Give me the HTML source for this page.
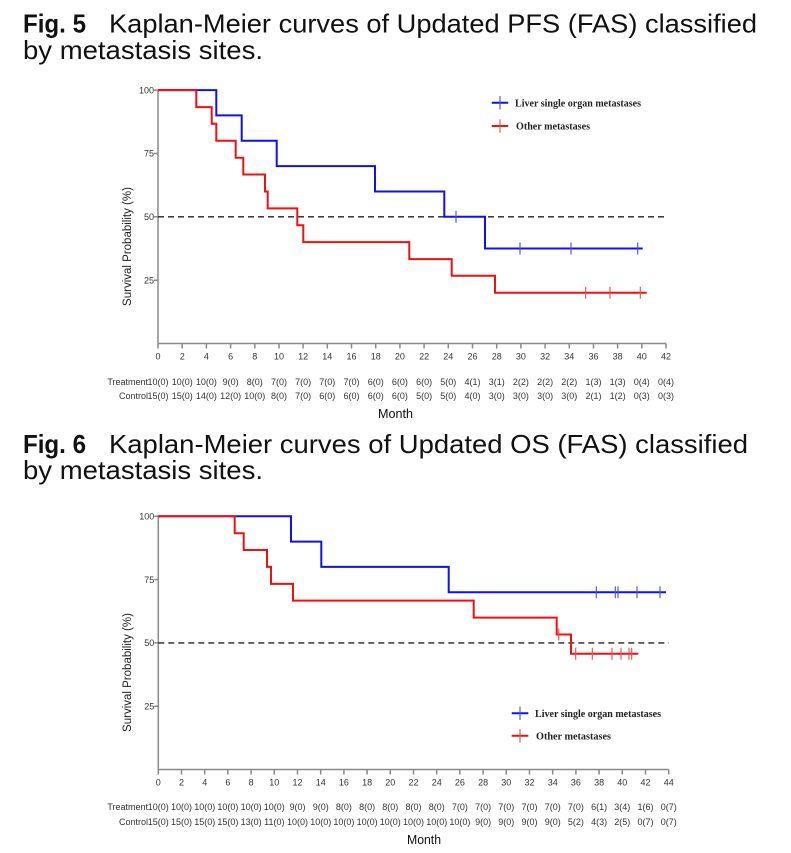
<!DOCTYPE html>
<html><head><meta charset="utf-8"><style>
html,body{margin:0;padding:0;background:#fff;}
svg{display:block;}
.t{font-family:"Liberation Sans",Arial,sans-serif;}
.tk{font-family:"Liberation Sans",Arial,sans-serif;font-size:9px;fill:#333;}
.lg{font-family:"Liberation Serif","Times New Roman",serif;font-size:10.5px;font-weight:bold;fill:#222;}
</style></head><body>
<svg width="791" height="853" viewBox="0 0 791 853" xmlns="http://www.w3.org/2000/svg">
<!-- Titles -->
<text class="t" x="23" y="32.5" font-size="26" font-weight="bold" fill="#111" textLength="63" lengthAdjust="spacingAndGlyphs">Fig. 5</text>
<text class="t" x="109" y="32.5" font-size="26" fill="#111" textLength="648" lengthAdjust="spacingAndGlyphs">Kaplan-Meier curves of Updated PFS (FAS) classified</text>
<text class="t" x="23" y="59" font-size="26" fill="#111" textLength="240" lengthAdjust="spacingAndGlyphs">by metastasis sites.</text>
<text class="t" x="23" y="453" font-size="26" font-weight="bold" fill="#111" textLength="63" lengthAdjust="spacingAndGlyphs">Fig. 6</text>
<text class="t" x="109" y="453" font-size="26" fill="#111" textLength="639" lengthAdjust="spacingAndGlyphs">Kaplan-Meier curves of Updated OS (FAS) classified</text>
<text class="t" x="23" y="479" font-size="26" fill="#111" textLength="240" lengthAdjust="spacingAndGlyphs">by metastasis sites.</text>

<!-- ===== Chart 1 ===== -->
<g stroke="#8a8a8a" stroke-width="1.5" fill="none">
<path d="M158,90 V343.5 H666"/>
<path d="M154,90.1H158M154,153.5H158M154,216.8H158M154,280.2H158"/>
<path d="M158,343.5v5M182.2,343.5v5M206.4,343.5v5M230.6,343.5v5M254.8,343.5v5M279,343.5v5M303.1,343.5v5M327.3,343.5v5M351.5,343.5v5M375.7,343.5v5M399.9,343.5v5M424.1,343.5v5M448.3,343.5v5M472.5,343.5v5M496.7,343.5v5M520.9,343.5v5M545.1,343.5v5M569.3,343.5v5M593.5,343.5v5M617.6,343.5v5M641.8,343.5v5M666,343.5v5"/>
</g>
<g class="tk" text-anchor="end">
<text x="154" y="93.3">100</text><text x="154" y="156.7">75</text><text x="154" y="220">50</text><text x="154" y="283.4">25</text>
</g>
<g class="tk" text-anchor="middle">
<text x="158" y="359.5">0</text><text x="182.2" y="359.5">2</text><text x="206.4" y="359.5">4</text><text x="230.6" y="359.5">6</text><text x="254.8" y="359.5">8</text><text x="279" y="359.5">10</text><text x="303.1" y="359.5">12</text><text x="327.3" y="359.5">14</text><text x="351.5" y="359.5">16</text><text x="375.7" y="359.5">18</text><text x="399.9" y="359.5">20</text><text x="424.1" y="359.5">22</text><text x="448.3" y="359.5">24</text><text x="472.5" y="359.5">26</text><text x="496.7" y="359.5">28</text><text x="520.9" y="359.5">30</text><text x="545.1" y="359.5">32</text><text x="569.3" y="359.5">34</text><text x="593.5" y="359.5">36</text><text x="617.6" y="359.5">38</text><text x="641.8" y="359.5">40</text><text x="666" y="359.5">42</text>
</g>
<text class="t" x="131" y="246.5" font-size="11.5" fill="#222" text-anchor="middle" transform="rotate(-90 131 246.5)">Survival Probability (%)</text>
<line x1="158" y1="216.8" x2="666" y2="216.8" stroke="#222" stroke-width="1.4" stroke-dasharray="6,4"/>
<path d="M158,90.1 H216.3 V115.4 H241.7 V140.8 H276.7 V166.1 H375 V191.5 H444.3 V216.8 H485 V248.5 H642.7" stroke="#1010f0" stroke-width="2" fill="none"/>
<path d="M456,210.8v12M520,242.5v12M571,242.5v12M637.7,242.5v12" stroke="#4a4af0" stroke-width="1.1"/>
<path d="M158,90.1 H196.3 V107.1 H211.7 V123.8 H216.3 V140.8 H235.7 V157.8 H243.3 V174.5 H265 V191.5 H267.7 V208.4 H297.3 V225.2 H303.3 V242.1 H409.3 V259.1 H451.7 V275.8 H495 V292.8 H646.7" stroke="#f01010" stroke-width="2" fill="none"/>
<path d="M585.7,286.8v12M610,286.8v12M640.3,286.8v12" stroke="#f04a4a" stroke-width="1.1"/>
<!-- legend 1 -->
<path d="M491.7,102.7H508.3" stroke="#1010f0" stroke-width="2"/><path d="M500,96v13.5" stroke="#4a4af0" stroke-width="1.1"/>
<text class="lg" x="515" y="106.3" textLength="126" lengthAdjust="spacingAndGlyphs">Liver single organ metastases</text>
<path d="M491.7,126H508.3" stroke="#f01010" stroke-width="2"/><path d="M500,119.3v13.5" stroke="#f04a4a" stroke-width="1.1"/>
<text class="lg" x="516" y="129.6" textLength="74" lengthAdjust="spacingAndGlyphs">Other metastases</text>
<!-- risk table 1 -->
<g class="tk" fill="#222">
<text x="148" y="385" text-anchor="end">Treatment</text>
<text x="148" y="399" text-anchor="end">Control</text>
</g>
<g class="tk" text-anchor="middle" fill="#222">
<text x="158" y="385">10(0)</text><text x="182.2" y="385">10(0)</text><text x="206.4" y="385">10(0)</text><text x="230.6" y="385">9(0)</text><text x="254.8" y="385">8(0)</text><text x="279" y="385">7(0)</text><text x="303.1" y="385">7(0)</text><text x="327.3" y="385">7(0)</text><text x="351.5" y="385">7(0)</text><text x="375.7" y="385">6(0)</text><text x="399.9" y="385">6(0)</text><text x="424.1" y="385">6(0)</text><text x="448.3" y="385">5(0)</text><text x="472.5" y="385">4(1)</text><text x="496.7" y="385">3(1)</text><text x="520.9" y="385">2(2)</text><text x="545.1" y="385">2(2)</text><text x="569.3" y="385">2(2)</text><text x="593.5" y="385">1(3)</text><text x="617.6" y="385">1(3)</text><text x="641.8" y="385">0(4)</text><text x="666" y="385">0(4)</text>
<text x="158" y="399">15(0)</text><text x="182.2" y="399">15(0)</text><text x="206.4" y="399">14(0)</text><text x="230.6" y="399">12(0)</text><text x="254.8" y="399">10(0)</text><text x="279" y="399">8(0)</text><text x="303.1" y="399">7(0)</text><text x="327.3" y="399">6(0)</text><text x="351.5" y="399">6(0)</text><text x="375.7" y="399">6(0)</text><text x="399.9" y="399">6(0)</text><text x="424.1" y="399">5(0)</text><text x="448.3" y="399">5(0)</text><text x="472.5" y="399">4(0)</text><text x="496.7" y="399">3(0)</text><text x="520.9" y="399">3(0)</text><text x="545.1" y="399">3(0)</text><text x="569.3" y="399">3(0)</text><text x="593.5" y="399">2(1)</text><text x="617.6" y="399">1(2)</text><text x="641.8" y="399">0(3)</text><text x="666" y="399">0(3)</text>
</g>
<text class="t" x="378" y="418" font-size="12.5" fill="#111" textLength="35" lengthAdjust="spacingAndGlyphs">Month</text>

<!-- ===== Chart 2 ===== -->
<g stroke="#8a8a8a" stroke-width="1.5" fill="none">
<path d="M158.3,516 V769.5 H668.7"/>
<path d="M154.3,516.3H158.3M154.3,579.6H158.3M154.3,642.9H158.3M154.3,706.2H158.3"/>
<path d="M158.3,769.5v5M181.5,769.5v5M204.7,769.5v5M227.9,769.5v5M251.1,769.5v5M274.3,769.5v5M297.5,769.5v5M320.7,769.5v5M343.9,769.5v5M367.1,769.5v5M390.3,769.5v5M413.5,769.5v5M436.7,769.5v5M459.9,769.5v5M483.1,769.5v5M506.3,769.5v5M529.5,769.5v5M552.7,769.5v5M575.9,769.5v5M599.1,769.5v5M622.3,769.5v5M645.5,769.5v5M668.7,769.5v5"/>
</g>
<g class="tk" text-anchor="end">
<text x="154.3" y="519.5">100</text><text x="154.3" y="582.8">75</text><text x="154.3" y="646.1">50</text><text x="154.3" y="709.4">25</text>
</g>
<g class="tk" text-anchor="middle">
<text x="158.3" y="785.5">0</text><text x="181.5" y="785.5">2</text><text x="204.7" y="785.5">4</text><text x="227.9" y="785.5">6</text><text x="251.1" y="785.5">8</text><text x="274.3" y="785.5">10</text><text x="297.5" y="785.5">12</text><text x="320.7" y="785.5">14</text><text x="343.9" y="785.5">16</text><text x="367.1" y="785.5">18</text><text x="390.3" y="785.5">20</text><text x="413.5" y="785.5">22</text><text x="436.7" y="785.5">24</text><text x="459.9" y="785.5">26</text><text x="483.1" y="785.5">28</text><text x="506.3" y="785.5">30</text><text x="529.5" y="785.5">32</text><text x="552.7" y="785.5">34</text><text x="575.9" y="785.5">36</text><text x="599.1" y="785.5">38</text><text x="622.3" y="785.5">40</text><text x="645.5" y="785.5">42</text><text x="668.7" y="785.5">44</text>
</g>
<text class="t" x="131" y="672.5" font-size="11.5" fill="#222" text-anchor="middle" transform="rotate(-90 131 672.5)">Survival Probability (%)</text>
<line x1="158.3" y1="642.9" x2="668.7" y2="642.9" stroke="#222" stroke-width="1.4" stroke-dasharray="6,4"/>
<path d="M158.3,516.3 H291 V541.6 H321.3 V566.9 H448.7 V592.3 H666" stroke="#1010f0" stroke-width="2" fill="none"/>
<path d="M596.3,586.3v12M615.3,586.3v12M618,586.3v12M637,586.3v12M660,586.3v12" stroke="#4a4af0" stroke-width="1.1"/>
<path d="M158.3,516.3 H234.7 V533.3 H243.7 V550 H267 V566.9 H271 V583.9 H293 V600.6 H473.7 V617.6 H556.7 V634.5 H571 V653.7 H638.3" stroke="#f01010" stroke-width="2" fill="none"/>
<path d="M558.7,628.5v12M575.7,647.7v12M592.3,647.7v12M612,647.7v12M621,647.7v12M629,647.7v12M631.7,647.7v12" stroke="#f04a4a" stroke-width="1.1"/>
<!-- legend 2 -->
<path d="M511.7,713.3H528.3" stroke="#1010f0" stroke-width="2"/><path d="M520,706.6v13.5" stroke="#4a4af0" stroke-width="1.1"/>
<text class="lg" x="535" y="717" textLength="126" lengthAdjust="spacingAndGlyphs">Liver single organ metastases</text>
<path d="M511.7,735.7H528.3" stroke="#f01010" stroke-width="2"/><path d="M520,729v13.5" stroke="#f04a4a" stroke-width="1.1"/>
<text class="lg" x="536" y="739.4" textLength="75" lengthAdjust="spacingAndGlyphs">Other metastases</text>
<!-- risk table 2 -->
<g class="tk" fill="#222">
<text x="148" y="810" text-anchor="end">Treatment</text>
<text x="148" y="825" text-anchor="end">Control</text>
</g>
<g class="tk" text-anchor="middle" fill="#222">
<text x="158.3" y="810">10(0)</text><text x="181.5" y="810">10(0)</text><text x="204.7" y="810">10(0)</text><text x="227.9" y="810">10(0)</text><text x="251.1" y="810">10(0)</text><text x="274.3" y="810">10(0)</text><text x="297.5" y="810">9(0)</text><text x="320.7" y="810">9(0)</text><text x="343.9" y="810">8(0)</text><text x="367.1" y="810">8(0)</text><text x="390.3" y="810">8(0)</text><text x="413.5" y="810">8(0)</text><text x="436.7" y="810">8(0)</text><text x="459.9" y="810">7(0)</text><text x="483.1" y="810">7(0)</text><text x="506.3" y="810">7(0)</text><text x="529.5" y="810">7(0)</text><text x="552.7" y="810">7(0)</text><text x="575.9" y="810">7(0)</text><text x="599.1" y="810">6(1)</text><text x="622.3" y="810">3(4)</text><text x="645.5" y="810">1(6)</text><text x="668.7" y="810">0(7)</text>
<text x="158.3" y="825">15(0)</text><text x="181.5" y="825">15(0)</text><text x="204.7" y="825">15(0)</text><text x="227.9" y="825">15(0)</text><text x="251.1" y="825">13(0)</text><text x="274.3" y="825">11(0)</text><text x="297.5" y="825">10(0)</text><text x="320.7" y="825">10(0)</text><text x="343.9" y="825">10(0)</text><text x="367.1" y="825">10(0)</text><text x="390.3" y="825">10(0)</text><text x="413.5" y="825">10(0)</text><text x="436.7" y="825">10(0)</text><text x="459.9" y="825">10(0)</text><text x="483.1" y="825">9(0)</text><text x="506.3" y="825">9(0)</text><text x="529.5" y="825">9(0)</text><text x="552.7" y="825">9(0)</text><text x="575.9" y="825">5(2)</text><text x="599.1" y="825">4(3)</text><text x="622.3" y="825">2(5)</text><text x="645.5" y="825">0(7)</text><text x="668.7" y="825">0(7)</text>
</g>
<text class="t" x="407" y="844" font-size="12.5" fill="#111" textLength="34" lengthAdjust="spacingAndGlyphs">Month</text>
</svg>
</body></html>
